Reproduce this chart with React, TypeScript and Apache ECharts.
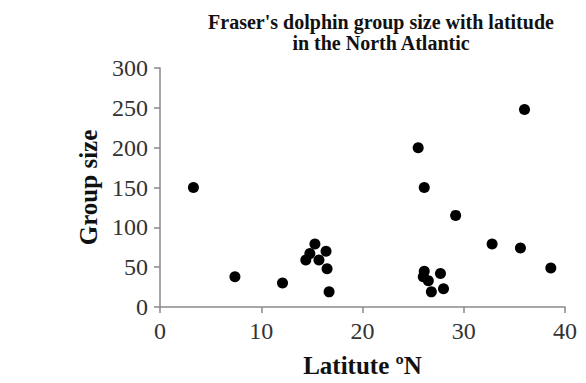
import React, { useEffect, useRef } from "react";
import * as echarts from "echarts";

const latitude = [3.3, 7.4, 12.1, 14.4, 14.8, 15.3, 15.7, 16.4, 16.5, 16.7, 25.5, 26.1, 26.1, 26.0, 26.5, 26.8, 27.7, 28.0, 29.2, 32.8, 35.6, 36.0, 38.6];
const groupSize = [150, 38, 30, 59, 67, 79, 59, 70, 48, 19, 200, 150, 45, 38, 33, 19, 42, 23, 115, 79, 74, 248, 49];
const titleText = "Fraser's dolphin group size with latitude\nin the North Atlantic";
const xName = "Latitute \u00baN";
const yName = "Group size";

export default function App() {
  const ref = useRef<HTMLDivElement>(null);
  useEffect(() => {
    const chart = echarts.init(ref.current!, null, { renderer: "svg" });
    const serif = "Liberation Serif";
    chart.setOption({
      animation: false,
      backgroundColor: "#fff",
      title: {
        text: titleText,
        left: 376,
        top: 6,
        textAlign: "center",
        textStyle: { fontFamily: serif, fontWeight: "bold", fontSize: 20, lineHeight: 21, color: "#111" },
      },
      grid: { left: 160, right: 21, top: 68, bottom: 74 },
      xAxis: {
        type: "value",
        min: 0,
        max: 40,
        interval: 10,
        name: xName,
        nameLocation: "middle",
        nameGap: 46,
        nameTextStyle: { fontFamily: serif, fontWeight: "bold", fontSize: 25, color: "#111" },
        axisLine: { show: true, lineStyle: { color: "#8a8a8a", width: 1.5 } },
        axisTick: { show: true, length: 6, lineStyle: { color: "#8a8a8a", width: 1.5 } },
        axisLabel: { fontFamily: serif, fontSize: 24, color: "#333", margin: 12 },
        splitLine: { show: false },
      },
      yAxis: {
        type: "value",
        min: 0,
        max: 300,
        interval: 50,
        name: yName,
        nameLocation: "middle",
        nameGap: 56,
        nameTextStyle: { fontFamily: serif, fontWeight: "bold", fontSize: 25, color: "#111" },
        axisLine: { show: true, lineStyle: { color: "#8a8a8a", width: 1.5 } },
        axisTick: { show: true, length: 6, lineStyle: { color: "#8a8a8a", width: 1.5 } },
        axisLabel: { fontFamily: serif, fontSize: 24, color: "#333", margin: 12 },
        splitLine: { show: false },
      },
      series: [
        {
          type: "scatter",
          data: latitude.map((x, i) => [x, groupSize[i]]),
          symbol: "circle",
          symbolSize: 11,
          itemStyle: { color: "#000", opacity: 1 },
        },
      ],
    });
    return () => chart.dispose();
  }, []);
  return <div ref={ref} style={{ width: 586, height: 383, marginLeft: -8, marginTop: -8 }} />;
}
